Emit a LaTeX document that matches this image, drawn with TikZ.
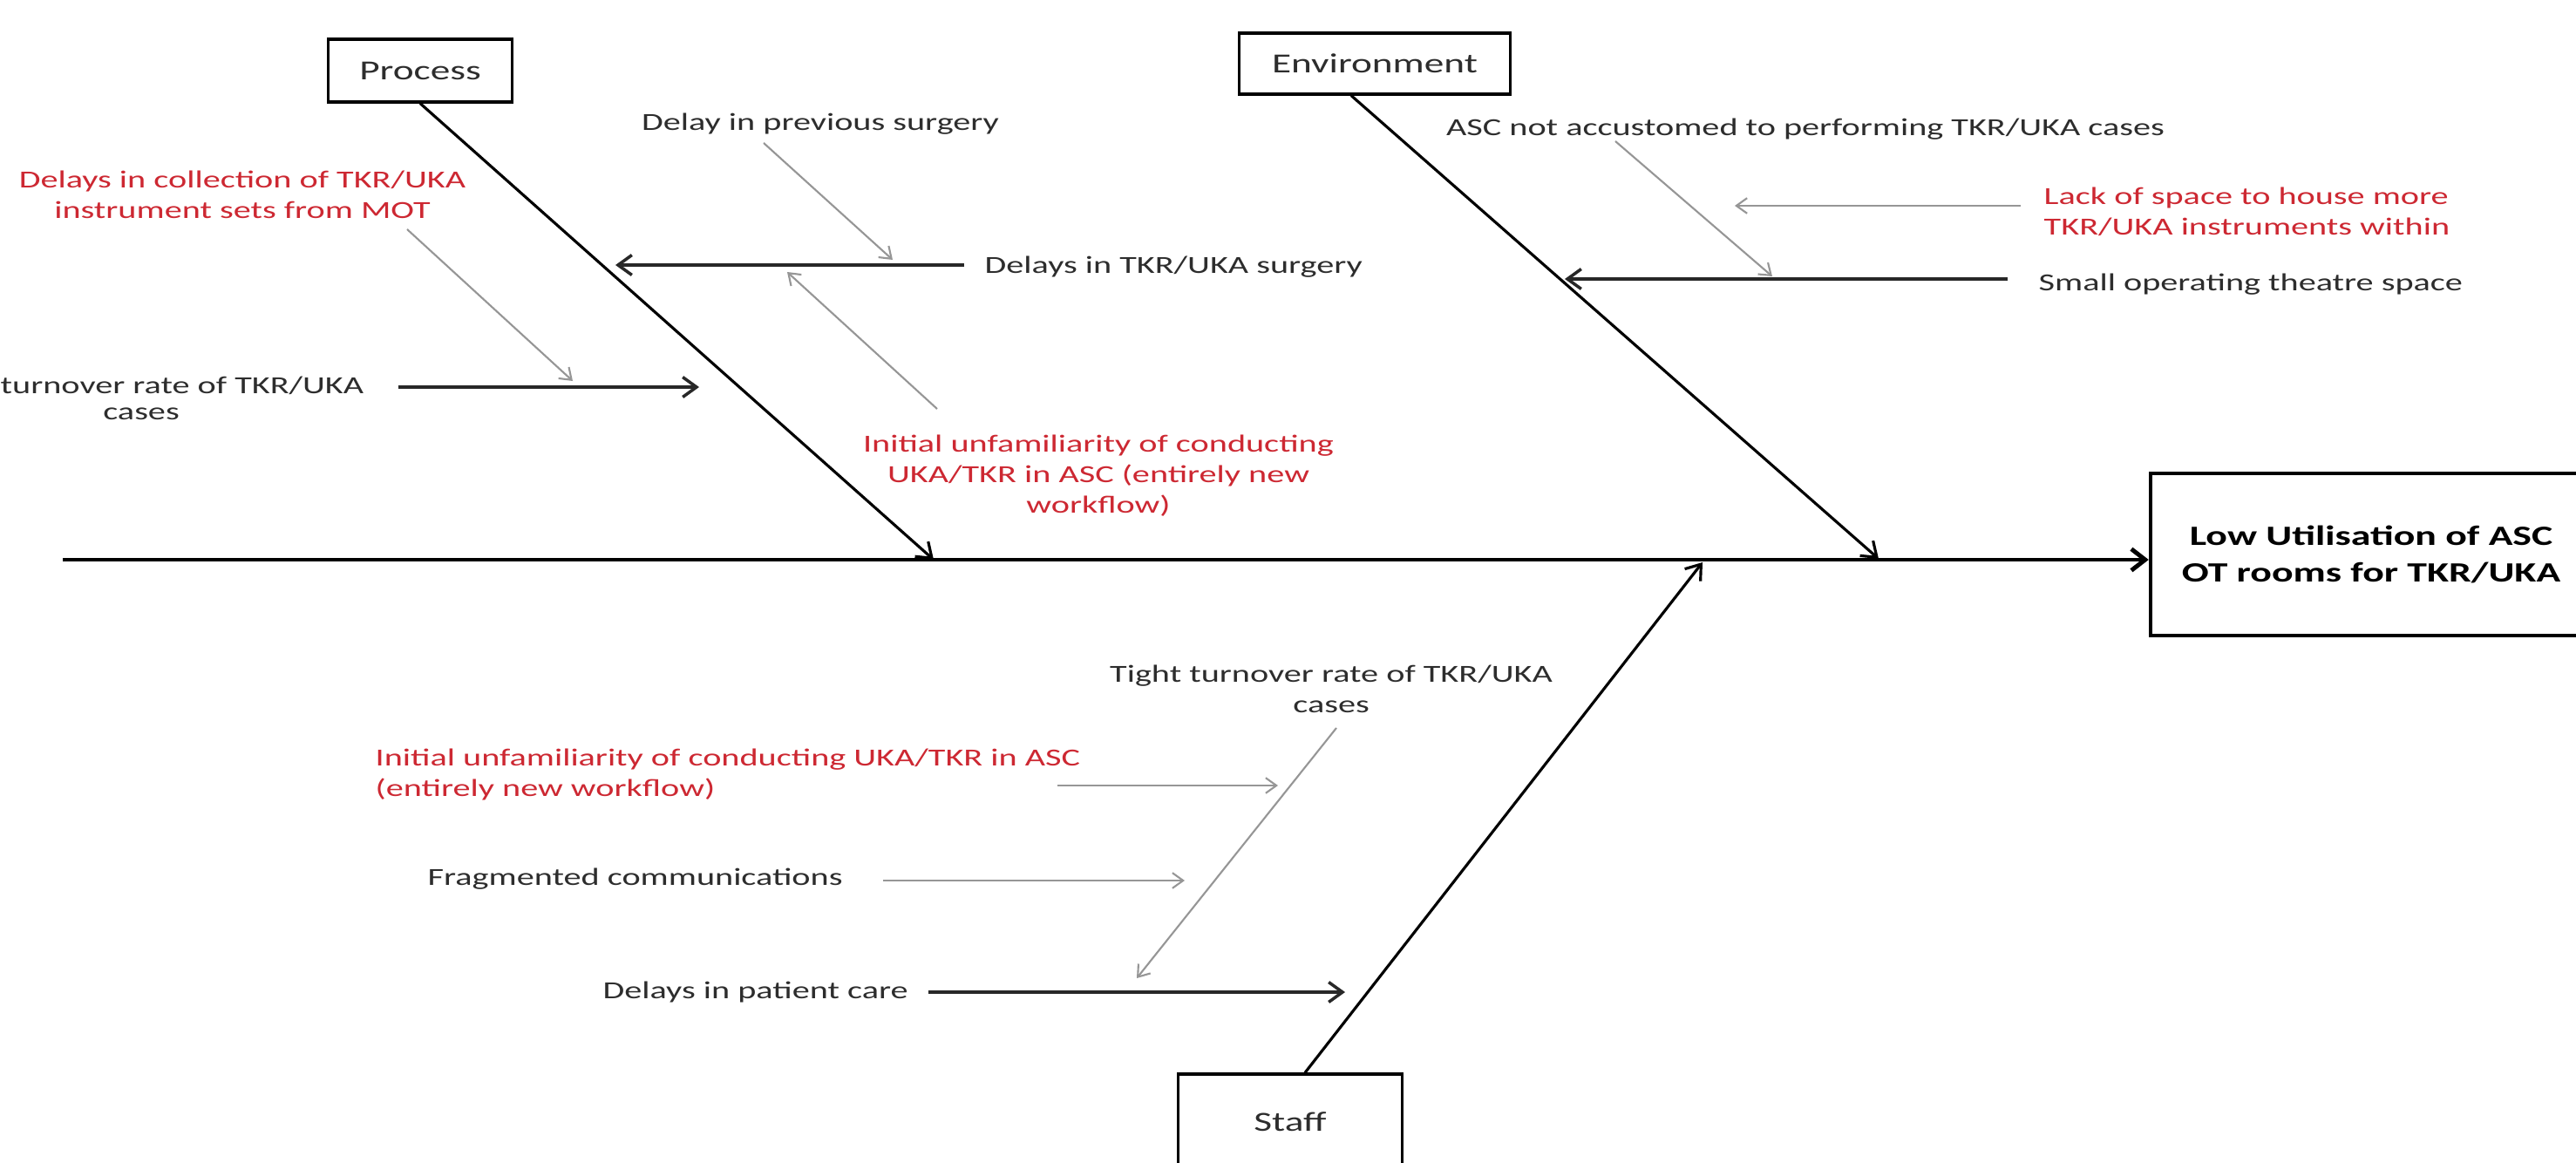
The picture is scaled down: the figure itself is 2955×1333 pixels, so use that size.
\documentclass[tikz,border=0pt]{standalone}
\usepackage{fontspec}
\setmainfont{Carlito}[FakeStretch=1.43]
\usetikzlibrary{arrows.meta}
\definecolor{txt}{RGB}{45,45,45}
\definecolor{redtxt}{RGB}{205,40,50}
\definecolor{grayarr}{RGB}{150,150,150}
\tikzset{
  lbl/.style={inner sep=0pt, text=txt, font=\fontsize{8pt}{9.96pt}\selectfont},
  redlbl/.style={lbl, text=redtxt},
  catbox/.style={draw=black, line width=0.9pt, inner sep=0pt, text=txt,
    font=\fontsize{9pt}{11pt}\selectfont},
  effectbox/.style={draw=black, line width=1.2pt, inner sep=0pt, text=black,
    align=center, font=\bfseries\fontsize{9.1pt}{11.7pt}\selectfont},
  spine/.style={draw=black, line width=1.4pt, -{Straight Barb[length=4.5pt,width=7pt]}},
  bone/.style={draw=black, line width=0.9pt, -{Straight Barb[length=4.5pt,width=6.5pt]}},
  blkarrow/.style={draw={rgb,255:red,40;green,40;blue,40}, line width=1pt, -{Straight Barb[length=4.5pt,width=6.5pt]}},
  grayarrow/.style={draw=grayarr, line width=0.6pt, -{Straight Barb[length=3.5pt,width=5pt]}}
}
\begin{document}
\begin{tikzpicture}[x=0.01cm, y=-0.01cm]
\useasboundingbox (0,0) rectangle (2955,1333);
\fill[white] (0,0) rectangle (2955,1333);
\clip (0,0) rectangle (2955,1333);

% category boxes and effect
\node[catbox, minimum width=2.11cm, minimum height=0.72cm] (process) at (482,81) {Process};
\node[catbox, minimum width=3.11cm, minimum height=0.70cm] (env) at (1577,73) {Environment};
\node[catbox, minimum width=2.57cm, minimum height=1.10cm] (staff) at (1480,1287) {Staff};
\node[effectbox, minimum width=5.06cm, minimum height=1.86cm] (effect) at (2720,636)
  {Low Utilisation of ASC\\OT rooms for TKR/UKA};

% spine
\coordinate (spineStart) at (72,642);
\draw[spine] (spineStart) -- (spineStart -| effect.west);

% bones
\coordinate (procTip) at (1071,642);
\coordinate (envTip) at (2155,641);
\coordinate (staffTip) at (1953,645);
\draw[bone] (process.south) -- (procTip);
\draw[bone] ([xshift=-0.27cm]env.south) -- (envTip);
\draw[bone] ([xshift=0.17cm]staff.north) -- (staffTip);

% ---------- Process branch ----------
\node[lbl, anchor=west] (dts) at (1129,306) {Delays in TKR/UKA surgery};
\coordinate (dtsTip) at (706,304);
\draw[blkarrow] ([xshift=-0.23cm]dts.west |- dtsTip) -- (dtsTip);

\node[lbl] (dps) at (941,142) {Delay in previous surgery};
\coordinate (dpsStart) at (876,164);
\coordinate (dpsTip) at (1024,298);
\draw[grayarrow] (dpsStart) -- (dpsTip);

\node[redlbl, align=center] (iu1) at (1260,546)
  {Initial unfamiliarity of conducting\\UKA/TKR in ASC (entirely new\\workflow)};
\coordinate (iu1Start) at (1075,469);
\coordinate (iu1Tip) at (903,312);
\draw[grayarrow] (iu1Start) -- (iu1Tip);

\node[redlbl, align=center] (dcol) at (278,223)
  {Delays in collection of TKR/UKA\\instrument sets from MOT};
\coordinate (dcolStart) at (467,263);
\coordinate (dcolTip) at (657,437);
\draw[grayarrow] (dcolStart) -- (dcolTip);

\node[lbl, anchor=west] (tt1) at (0,442) {turnover rate of TKR/UKA};
\node[lbl] (tt1c) at (162,475) {cases};
\coordinate (tt1Tip) at (802,444);
\draw[blkarrow] ([xshift=0.39cm]tt1.east |- tt1Tip) -- (tt1Tip);

% ---------- Environment branch ----------
\node[lbl] (asc) at (2071,148) {ASC not accustomed to performing TKR/UKA cases};
\coordinate (ascStart) at (1853,162);
\coordinate (ascTip) at (2033,317);
\draw[grayarrow] (ascStart) -- (ascTip);

\node[redlbl, align=left, anchor=west] (lack) at (2344,243)
  {Lack of space to house more\\TKR/UKA instruments within};
\coordinate (lackTip) at (1990,236);
\draw[grayarrow] ([xshift=-0.26cm]lack.west |- lackTip) -- (lackTip);

\node[lbl, anchor=west] (small) at (2338,326) {Small operating theatre space};
\coordinate (smallTip) at (1795,320);
\draw[blkarrow] ([xshift=-0.35cm]small.west |- smallTip) -- (smallTip);

% ---------- Staff branch ----------
\node[lbl, align=center] (tt2) at (1527,790) {Tight turnover rate of TKR/UKA\\cases};
\coordinate (tt2Start) at (1533,835);
\coordinate (tt2Tip) at (1304,1122);
\draw[grayarrow] (tt2Start) -- (tt2Tip);

\node[redlbl, align=left, anchor=west] (iu2) at (430,888)
  {Initial unfamiliarity of conducting UKA/TKR in ASC\\(entirely new workflow)};
\coordinate (iu2Start) at (1213,901);
\coordinate (iu2Tip) at (1466,901);
\draw[grayarrow] (iu2Start) -- (iu2Tip);

\node[lbl, anchor=west] (frag) at (490,1008) {Fragmented communications};
\coordinate (fragTip) at (1359,1010);
\draw[grayarrow] ([xshift=0.46cm]frag.east |- fragTip) -- (fragTip);

\node[lbl, anchor=west] (dpc) at (691,1138) {Delays in patient care};
\coordinate (dpcTip) at (1543,1138);
\draw[blkarrow] ([xshift=0.23cm]dpc.east |- dpcTip) -- (dpcTip);
\end{tikzpicture}
\end{document}
